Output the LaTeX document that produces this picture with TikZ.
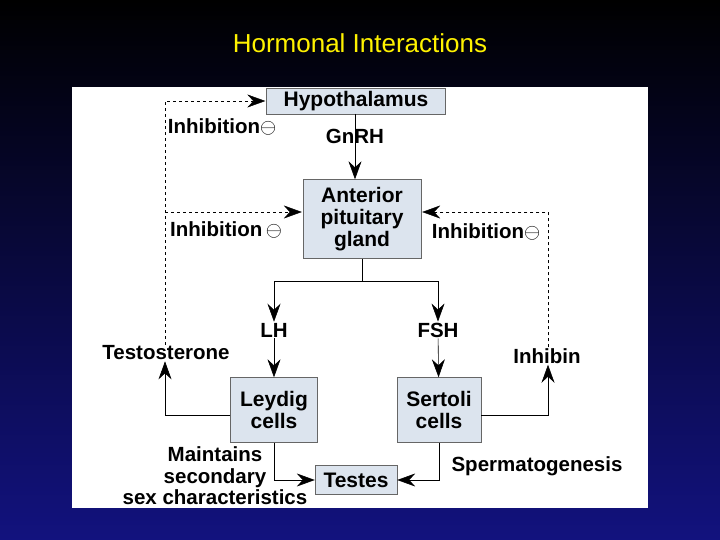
\documentclass[tikz,border=0pt]{standalone}
\usepackage{fontspec}
\setmainfont{Liberation Sans}
\usetikzlibrary{arrows.meta}
\definecolor{boxfill}{HTML}{DCE4EE}
\definecolor{deepblue}{HTML}{12127E}
\begin{document}
\begin{tikzpicture}[
        x=1pt, y=-1pt,
        organ/.style={draw=gray!80!black, fill=boxfill, align=center, font=\bfseries\fontsize{21}{22}\selectfont, inner sep=0pt}, % Stil der Kaesten
        lbl/.style={align=center, font=\bfseries\fontsize{20.5}{21.5}\selectfont, inner sep=1pt},
        flow/.style={draw, semithick, -{Stealth[length=18pt, width=13pt, inset=6pt]}},
        fb/.style={draw, thin, dashed, -{Stealth[length=18pt, width=13pt, inset=6pt, sep]}},
    ]
    \useasboundingbox (0,0) rectangle (720,540);
    \shade[top color=black, bottom color=deepblue] (0,0) rectangle (720,540);
    \fill[white] (72,87) rectangle (648,508);
    \node[text=yellow, font=\fontsize{26}{28}\selectfont] (title) at (360,43) {Hormonal Interactions};

    % Kaesten
    \node[organ, minimum width=179pt, minimum height=26pt] (hyp) at (356,101) {Hypothalamus};
    \node[organ, minimum width=118pt, minimum height=79pt] (ant) at (362,219) {Anterior\\pituitary\\gland};
    \node[organ, minimum width=87pt, minimum height=65pt] (ley) at (274,410) {Leydig\\cells};
    \node[organ, minimum width=84pt, minimum height=65pt] (ser) at (439,410) {Sertoli\\cells};
    \node[organ, minimum width=82pt, minimum height=29pt] (tes) at (356,480) {Testes};

    % Beschriftungen
    \node[lbl] (gnrh) at (355,136) {GnRH};
    \node[lbl] (lh) at (274,330) {LH};
    \node[lbl] (fsh) at (438,330) {FSH};
    \node[lbl] (testo) at (166,353) {Testosterone};
    \node[lbl] (inhb) at (547,356) {Inhibin};
    \node[lbl] (inh1) at (222,127) {Inhibition$\ominus$};
    \node[lbl] (inh2) at (226,230) {Inhibition\,$\ominus$};
    \node[lbl] (inh3) at (486,232) {Inhibition$\ominus$};
    \node[lbl] (maint) at (215,476) {Maintains\\secondary\\sex characteristics};
    \node[lbl] (sperm) at (537,466) {Spermatogenesis};
    \coordinate (hin) at (355,114);
    \coordinate (aout) at (362,259);
    \coordinate (split) at (362,281);
    \coordinate (tl) at (165,415);
    \coordinate (tr) at (548,415);

    % Verbindungen
    \draw[flow] (hin) -- (hin |- ant.north);
    \draw[semithick] (aout) -- (split);
    \draw[flow] (split) -| (lh.north);
    \draw[flow] (split) -| (fsh.north);
    \draw[flow] (lh) -- (ley);
    \draw[flow] (fsh) -- (ser);
    \draw[flow] (ley.west |- tl) -- (tl) -- (testo.south -| tl);
    \draw[flow] (ser.east |- tr) -- (tr) -- (inhb.south -| tr);
    \draw[fb] (testo.north -| tl) -- (165,101) -- (hyp.west);
    \draw[fb] (165,212) -- (ant.west |- 0,212);
    \draw[fb] (inhb.north -| tr) -- (548,212) -- (ant.east |- 0,212);
    \draw[flow] (ley.south) |- (tes.west);
    \draw[flow] (ser.south) |- (tes.east);
\end{tikzpicture}
\end{document}
